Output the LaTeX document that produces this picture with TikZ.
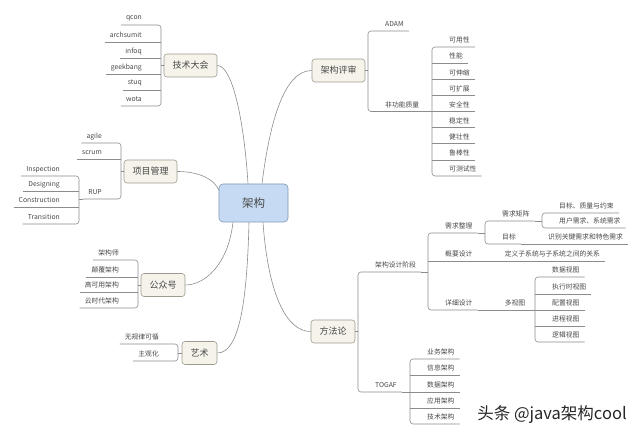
\documentclass[tikz,border=0pt]{standalone}
\usepackage{fontspec}
\setmainfont{Noto Sans CJK SC}
\usetikzlibrary{calc, positioning}

\definecolor{linegray}{HTML}{8C8C8C}
\definecolor{txt}{HTML}{484848}
\definecolor{topicfill}{HTML}{F6F3EB}
\definecolor{topicline}{HTML}{9E9A90}
\definecolor{rootfill}{HTML}{C6DBF3}
\definecolor{rootline}{HTML}{7F96B5}

\tikzset{
  root/.style={draw=rootline, fill=rootfill, rounded corners=4pt, line width=0.6pt,
    minimum width=69pt, minimum height=38pt, font=\fontsize{11.5}{13}\selectfont, text=txt},
  topic/.style={draw=topicline, fill=topicfill, rounded corners=3pt, line width=0.6pt,
    minimum height=23pt, inner xsep=8.5pt, font=\fontsize{9}{11}\selectfont, text=txt},
  leafl/.style={anchor=south east, inner xsep=5pt, inner ysep=0pt, minimum height=13pt,
    font=\fontsize{6.8}{8}\selectfont, text=txt},
  leafr/.style={leafl, anchor=south west},
  branch/.style={draw=linegray, line width=0.6pt},
  bracket/.style={branch, rounded corners=3pt},
}

\begin{document}
\begin{tikzpicture}[x=1pt, y=-1pt]
\useasboundingbox (0,0) rectangle (640,435);

% Root and main topics
\node[root] (root) at (253.5,203) {架构};
\node[topic] (tech) at (190.5,65.5) {技术大会};
\node[topic] (proj) at (150.5,171.5) {项目管理};
\node[topic] (pub) at (163,285) {公众号};
\node[topic] (art) at (199.5,353) {艺术};
\node[topic] (review) at (338.5,70.5) {架构评审};
\node[topic] (method) at (333,331.5) {方法论};

% Curved branches from the root
\draw[branch] (tech.east) .. controls +(15,0) and +(-4,-64) .. ([xshift=-5.5pt]root.north);
\draw[branch] ([xshift=8.5pt]root.north) .. controls +(8,-64) and +(-27,0) .. (review.west);
\draw[branch] (proj.east) .. controls +(23,0) and +(-4,-10) .. ([yshift=13pt]root.west);
\draw[branch] ([xshift=-20.5pt]root.south) .. controls +(-5,43) and +(19,0) .. (pub.east);
\draw[branch] ([xshift=-4.5pt]root.south) .. controls +(-2,80) and +(22,0) .. (art.east);
\draw[branch] ([xshift=9.5pt]root.south) .. controls +(5,70) and +(-25,0) .. (method.west);

% Tech conferences
\coordinate (techbrk) at (161,0);
\node[leafl] (qcon) at (147,25) {qcon};
\node[leafl] (archsumit) at (147,42) {archsumit};
\node[leafl] (infoq) at (147,58) {infoq};
\node[leafl] (geekbang) at (147,74) {geekbang};
\node[leafl] (stuq) at (147,90) {stuq};
\node[leafl] (wota) at (147,106) {wota};
\draw[branch] (tech.west) -- (tech.west -| techbrk);
\draw[bracket] (qcon.south west) -- (qcon.south -| techbrk) -- (wota.south -| techbrk) -- (wota.south west);
\foreach \n in {archsumit,infoq,geekbang,stuq}
  \draw[branch] (\n.south west) -- (\n.south -| techbrk);

% Project management
\coordinate (projbrk) at (121,0);
\node[leafl] (agile) at (107,143) {agile};
\node[leafl] (scrum) at (107,159) {scrum};
\node[leafl] (rup) at (107,199) {RUP};
\draw[branch] (proj.west) -- (proj.west -| projbrk);
\draw[bracket] (agile.south west) -- (agile.south -| projbrk) -- (rup.south -| projbrk) -- (rup.south west);
\draw[branch] (scrum.south west) -- (scrum.south -| projbrk);

\coordinate (rupbrk) at (79,0);
\node[leafl] (insp) at (65,176) {Inspection};
\node[leafl] (desg) at (65,191) {Designing};
\node[leafl] (cons) at (65,207) {Construction};
\node[leafl] (trans) at (65,224) {Transition};
\draw[branch] (rup.south west) -- (rup.south -| rupbrk);
\draw[bracket] (insp.south west) -- (insp.south -| rupbrk) -- (trans.south -| rupbrk) -- (trans.south west);
\foreach \n in {desg,cons}
  \draw[branch] (\n.south west) -- (\n.south -| rupbrk);

% Public accounts
\coordinate (pubbrk) at (138,0);
\node[leafl] (archt) at (124,260) {架构师};
\node[leafl] (subv) at (124,277) {颠覆架构};
\node[leafl] (ha) at (124,292) {高可用架构};
\node[leafl] (cloud) at (124,308) {云时代架构};
\draw[branch] (pub.west) -- (pub.west -| pubbrk);
\draw[bracket] (archt.south west) -- (archt.south -| pubbrk) -- (cloud.south -| pubbrk) -- (cloud.south west);
\foreach \n in {subv,ha}
  \draw[branch] (\n.south west) -- (\n.south -| pubbrk);

% Art
\coordinate (artbrk) at (178,0);
\node[leafl] (rand) at (164,344) {无规律可循};
\node[leafl] (subj) at (164,361) {主观化};
\draw[branch] (art.west) -- (art.west -| artbrk);
\draw[bracket] (rand.south west) -- (rand.south -| artbrk) -- (subj.south -| artbrk) -- (subj.south west);

% Architecture review
\coordinate (revbrk) at (368,0);
\node[leafr] (adam) at (380,31) {ADAM};
\node[leafr] (nfq) at (380,111.5) {非功能质量};
\draw[branch] (review.east) -- (review.east -| revbrk);
\draw[bracket] (adam.south east) -- (adam.south -| revbrk) -- (nfq.south -| revbrk) -- (nfq.south east);

\coordinate (nfqbrk) at (432,0);
\node[leafr] (q1) at (444,47) {可用性};
\node[leafr] (q2) at (444,63.1) {性能};
\node[leafr] (q3) at (444,79.3) {可伸缩};
\node[leafr] (q4) at (444,95.4) {可扩展};
\node[leafr] (q5) at (444,111.5) {安全性};
\node[leafr] (q6) at (444,127.6) {稳定性};
\node[leafr] (q7) at (444,143.8) {健壮性};
\node[leafr] (q8) at (444,159.9) {鲁棒性};
\node[leafr] (q9) at (444,176) {可测试性};
\draw[branch] (nfq.south east) -- (nfq.south -| nfqbrk);
\draw[bracket] (q1.south east) -- (q1.south -| nfqbrk) -- (q9.south -| nfqbrk) -- (q9.south east);
\foreach \n in {q2,q3,q4,q5,q6,q7,q8}
  \draw[branch] (\n.south -| nfqbrk) -- (\n.south east);

% Methodology
\coordinate (methbrk) at (358,0);
\node[leafr] (design) at (370,272) {架构设计阶段};
\node[leafr] (togaf) at (370,392) {TOGAF};
\draw[branch] (method.east) -- (method.east -| methbrk);
\draw[bracket] (design.south east) -- (design.south -| methbrk) -- (togaf.south -| methbrk) -- (togaf.south east);

\coordinate (designbrk) at (428,0);
\node[leafr] (req) at (440,233) {需求整理};
\node[leafr] (outline) at (440,261) {概要设计};
\node[leafr] (detail) at (440,310) {详细设计};
\draw[branch] (design.south east) -- (design.south -| designbrk);
\draw[bracket] (req.south east) -- (req.south -| designbrk) -- (detail.south -| designbrk) -- (detail.south east);
\draw[branch] (outline.south -| designbrk) -- (outline.south east);

\coordinate (reqbrk) at (485,0);
\node[leafr] (matrix) at (497,221) {需求矩阵};
\node[leafr] (goal) at (497,244) {目标};
\draw[branch] (req.south east) -- (req.south -| reqbrk);
\draw[bracket] (matrix.south east) -- (matrix.south -| reqbrk) -- (goal.south -| reqbrk) -- (goal.south east);

\coordinate (matrixbrk) at (542,0);
\node[leafr] (goalq) at (554,213) {目标、质量与约束};
\node[leafr] (userreq) at (554,228) {用户需求、系统需求};
\draw[branch] (matrix.south east) -- (matrix.south -| matrixbrk);
\draw[bracket] (goalq.south east) -- (goalq.south -| matrixbrk) -- (userreq.south -| matrixbrk) -- (userreq.south east);

\node[leafr, xshift=22pt] (keyreq) at (goal.south east) {识别关键需求和特色需求};
\draw[branch] (goal.south east) -- (keyreq.south east);
\node[leafr, xshift=22pt] (subsys) at (outline.south east) {定义子系统与子系统之间的关系};
\draw[branch] (outline.south east) -- (subsys.south east);
\node[leafr, xshift=22pt] (views) at (detail.south east) {多视图};
\draw[branch] (detail.south east) -- (views.south west);

\coordinate (viewsbrk) at (535,0);
\node[leafr] (v1) at (547,277) {数据视图};
\node[leafr] (v2) at (547,294) {执行时视图};
\node[leafr] (v3) at (547,310) {配置视图};
\node[leafr] (v4) at (547,326) {进程视图};
\node[leafr] (v5) at (547,342) {逻辑视图};
\draw[branch] (views.south west) -- (views.south -| viewsbrk);
\draw[bracket] (v1.south east) -- (v1.south -| viewsbrk) -- (v5.south -| viewsbrk) -- (v5.south east);
\foreach \n in {v2,v3,v4}
  \draw[branch] (\n.south -| viewsbrk) -- (\n.south east);

\coordinate (togafbrk) at (410,0);
\node[leafr] (t1) at (422,359) {业务架构};
\node[leafr] (t2) at (422,375) {信息架构};
\node[leafr] (t3) at (422,392) {数据架构};
\node[leafr] (t4) at (422,408) {应用架构};
\node[leafr] (t5) at (422,424) {技术架构};
\draw[branch] (togaf.south east) -- (togaf.south -| togafbrk);
\draw[bracket] (t1.south east) -- (t1.south -| togafbrk) -- (t5.south -| togafbrk) -- (t5.south east);
\foreach \n in {t2,t3,t4}
  \draw[branch] (\n.south -| togafbrk) -- (\n.south east);

% Watermark
\node[font=\fontsize{16.5}{18}\selectfont, text=black!85] (mark) at (552,415) {头条 @java架构cool};
\end{tikzpicture}
\end{document}
